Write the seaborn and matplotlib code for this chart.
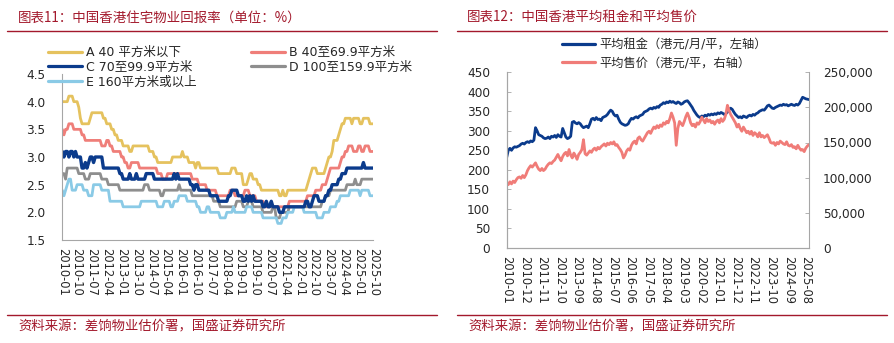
import numpy as np
import pandas as pd
import matplotlib
matplotlib.use("Agg")
import matplotlib.pyplot as plt
import seaborn as sns
from matplotlib.lines import Line2D
from matplotlib.ticker import FuncFormatter

sns.set_style("white")
plt.rcParams["font.family"] = ["DejaVu Sans", "Noto Sans CJK SC"]
CJK = ["Noto Sans CJK SC", "DejaVu Sans"]

# ---------------- data ----------------
months = pd.period_range("2010-01", periods=190, freq="M").strftime("%Y-%m").tolist()

# rental yield by unit size (%), monthly, stored as (value, number of months) runs
yield_a_runs = [(4.0, 4), (4.1, 3), (4.0, 3), (3.9, 1), (3.7, 1), (3.6, 5), (3.7, 1), (3.8, 7),
                (3.7, 2), (3.6, 3), (3.5, 2), (3.4, 2), (3.3, 3), (3.2, 4), (3.1, 2), (3.2, 10),
                (3.1, 3), (3.0, 2), (2.9, 9), (3.0, 6), (3.1, 1), (3.0, 3), (2.9, 4), (2.8, 1),
                (2.9, 2), (2.8, 11), (2.7, 8), (2.8, 3), (2.7, 4), (2.5, 3), (2.6, 1), (2.7, 2),
                (2.6, 3), (2.5, 2), (2.4, 11), (2.3, 2), (2.4, 1), (2.3, 2), (2.4, 12), (2.5, 1),
                (2.6, 1), (2.7, 1), (2.8, 3), (2.7, 5), (2.8, 1), (2.9, 1), (3.0, 2), (3.1, 1),
                (3.3, 3), (3.4, 1), (3.5, 1), (3.6, 2), (3.7, 4), (3.6, 1), (3.7, 4), (3.6, 2),
                (3.7, 4), (3.6, 3)]
yield_b_runs = [(3.5, 1), (3.4, 1), (3.5, 2), (3.6, 3), (3.5, 5), (3.4, 2), (3.3, 10), (3.2, 3),
                (3.3, 2), (3.2, 2), (3.1, 5), (3.0, 2), (2.9, 2), (2.8, 2), (2.9, 5), (2.8, 11),
                (2.7, 3), (2.6, 3), (2.7, 15), (2.6, 4), (2.5, 5), (2.4, 6), (2.3, 8), (2.4, 3),
                (2.3, 6), (2.4, 3), (2.3, 4), (2.2, 5), (2.1, 15), (2.2, 11), (2.3, 5), (2.4, 4),
                (2.5, 3), (2.6, 1), (2.7, 1), (2.8, 6), (2.9, 1), (3.0, 2), (3.1, 2), (3.2, 3),
                (3.1, 3), (3.2, 2), (3.1, 2), (3.2, 3), (3.1, 3)]
yield_c_runs = [(3.1, 1), (3.0, 1), (3.1, 2), (3.0, 1), (3.1, 2), (3.0, 1), (3.1, 1), (3.0, 3),
                (2.8, 2), (2.9, 1), (2.8, 1), (2.9, 1), (3.0, 2), (2.9, 1), (3.0, 5), (2.8, 10),
                (2.7, 2), (2.6, 4), (2.7, 1), (2.6, 3), (2.7, 1), (2.6, 5), (2.7, 5), (2.6, 12),
                (2.7, 1), (2.6, 1), (2.7, 1), (2.6, 7), (2.5, 2), (2.4, 1), (2.5, 2), (2.4, 7),
                (2.3, 5), (2.2, 6), (2.3, 2), (2.4, 4), (2.3, 3), (2.2, 2), (2.3, 1), (2.2, 1),
                (2.3, 1), (2.2, 1), (2.3, 1), (2.2, 5), (2.1, 2), (2.2, 1), (2.1, 2), (2.2, 1),
                (2.1, 4), (2.0, 3), (2.1, 13), (2.2, 2), (2.1, 2), (2.2, 1), (2.3, 3), (2.2, 4),
                (2.3, 2), (2.4, 2), (2.5, 4), (2.6, 2), (2.7, 3), (2.8, 10), (2.9, 1), (2.8, 6)]
yield_d_runs = [(2.7, 2), (2.6, 1), (2.8, 7), (2.7, 4), (2.6, 3), (2.7, 7), (2.6, 4), (2.5, 7),
                (2.4, 15), (2.5, 3), (2.4, 7), (2.3, 2), (2.4, 9), (2.5, 1), (2.4, 7), (2.3, 13),
                (2.2, 4), (2.1, 10), (2.2, 4), (2.1, 3), (2.2, 3), (2.1, 6), (2.0, 6), (2.1, 2),
                (1.9, 3), (2.0, 5), (2.1, 20), (2.2, 2), (2.3, 3), (2.4, 10), (2.5, 5), (2.6, 1),
                (2.5, 3), (2.6, 8)]
yield_e_runs = [(2.4, 1), (2.3, 1), (2.4, 1), (2.5, 1), (2.6, 2), (2.4, 3), (2.5, 4), (2.4, 3),
                (2.3, 3), (2.5, 5), (2.4, 5), (2.2, 8), (2.1, 11), (2.2, 10), (2.1, 4), (2.2, 4),
                (2.1, 2), (2.2, 3), (2.3, 5), (2.2, 6), (2.1, 2), (2.0, 4), (2.1, 2), (2.0, 6),
                (1.9, 4), (2.0, 4), (2.1, 1), (2.0, 7), (2.1, 4), (2.0, 6), (1.9, 9), (1.8, 3),
                (1.9, 3), (2.0, 4), (2.1, 6), (2.0, 8), (1.9, 4), (2.0, 4), (2.1, 4), (2.2, 2),
                (2.3, 6), (2.4, 6), (2.3, 1), (2.4, 5), (2.3, 3)]

yield_labels = ["A 40 平方米以下", "B 40至69.9平方米", "C 70至99.9平方米",
                "D 100至159.9平方米", "E 160平方米或以上"]

# average rent (HKD / month / sq ft) and average price (HKD / sq ft), monthly
rent = [232, 250, 255, 250, 256, 259, 258, 260, 262, 266,
        268, 266, 270, 272, 270, 274, 272, 276, 308, 300,
        290, 288, 286, 282, 280, 281, 284, 280, 286, 284,
        288, 283, 290, 286, 284, 306, 295, 284, 280, 282,
        286, 322, 324, 320, 318, 321, 318, 312, 308, 310,
        312, 308, 318, 330, 332, 328, 334, 329, 330, 326,
        334, 336, 338, 342, 348, 353, 350, 342, 338, 340,
        330, 322, 318, 316, 314, 315, 318, 326, 332, 330,
        334, 336, 333, 338, 340, 342, 348, 350, 352, 356,
        358, 356, 360, 358, 362, 360, 366, 368, 372, 370,
        374, 372, 376, 373, 375, 372, 370, 374, 372, 368,
        370, 374, 376, 377, 372, 366, 360, 352, 346, 340,
        336, 334, 338, 336, 340, 338, 342, 340, 343, 341,
        344, 342, 346, 344, 347, 345, 342, 344, 348, 354,
        358, 355, 348, 342, 338, 334, 336, 333, 338, 336,
        334, 338, 340, 338, 342, 340, 344, 346, 350, 352,
        354, 353, 358, 364, 366, 362, 358, 357, 360, 362,
        364, 366, 365, 368, 366, 367, 364, 366, 368, 366,
        365, 368, 366, 370, 378, 386, 384, 382, 381, 380]
price = [92000, 90000, 94000, 91000, 95000, 93000, 97000, 100000, 101000, 99000,
         103000, 100000, 104000, 110000, 114000, 117000, 115000, 118000, 121000, 116000,
         112000, 110000, 113000, 110000, 112000, 116000, 119000, 121000, 120000, 123000,
         125000, 129000, 133000, 128000, 124000, 130000, 134000, 136000, 131000, 140000,
         132000, 128000, 135000, 131000, 126000, 133000, 136000, 140000, 154000, 134000,
         132000, 135000, 138000, 136000, 140000, 142000, 139000, 143000, 141000, 144000,
         146000, 148000, 145000, 149000, 147000, 150000, 148000, 151000, 146000, 147000,
         143000, 140000, 136000, 128000, 132000, 138000, 141000, 139000, 146000, 150000,
         152000, 148000, 156000, 158000, 154000, 152000, 156000, 160000, 164000, 166000,
         163000, 168000, 172000, 170000, 174000, 171000, 175000, 173000, 178000, 176000,
         180000, 178000, 184000, 192000, 186000, 178000, 146000, 170000, 180000, 177000,
         174000, 180000, 187000, 192000, 186000, 178000, 174000, 176000, 172000, 178000,
         176000, 180000, 186000, 182000, 178000, 184000, 180000, 182000, 178000, 180000,
         176000, 180000, 182000, 178000, 184000, 180000, 183000, 190000, 203000, 196000,
         190000, 186000, 182000, 178000, 172000, 176000, 170000, 166000, 172000, 168000,
         164000, 166000, 162000, 166000, 160000, 164000, 162000, 158000, 164000, 158000,
         160000, 157000, 159000, 161000, 156000, 150000, 149000, 150000, 146000, 150000,
         148000, 152000, 150000, 148000, 147000, 151000, 146000, 145000, 147000, 143000,
         144000, 141000, 146000, 142000, 139000, 140000, 137000, 142000, 145000, 147000]
rent_label = "平均租金（港元/月/平，左轴）"
price_label = "平均售价（港元/平，右轴）"

# ---------------- styling ----------------
yield_colors = ["#E5C25E", "#EF7E79", "#0B3B8C", "#8E8E8E", "#8ACAE6"]
yield_widths = [2.0, 2.0, 2.4, 2.0, 2.0]
rent_color = "#0B3B8C"
price_color = "#F07C78"
axis_grey = "#A6A6A6"
dark_red = "#A3192C"
W, H = 895, 343


def expand(runs):
    return np.concatenate([np.full(n, v) for v, n in runs])


def fx(px):
    return px / W


def fy(py):
    return 1 - py / H


idx = np.arange(len(months))
yield_df = pd.DataFrame({"idx": idx})
for lab, runs in zip(yield_labels,
                     [yield_a_runs, yield_b_runs, yield_c_runs, yield_d_runs, yield_e_runs]):
    yield_df[lab] = expand(runs)
price_df = pd.DataFrame({"idx": idx, "rent": rent, "price": price})

fig = plt.figure(figsize=(W / 100, H / 100), dpi=100)

# ---------------- left: rental yield ----------------
ax1 = fig.add_axes([fx(62.3), fy(240), fx(373.3 - 62.3), (240 - 74) / H])
handles = {}
for k in [0, 1, 3, 4, 2]:
    lab = yield_labels[k]
    sns.lineplot(data=yield_df, x="idx", y=lab, ax=ax1, color=yield_colors[k],
                 linewidth=yield_widths[k], legend=False)
    handles[k] = Line2D([], [], color=yield_colors[k], linewidth=2.3, label=lab)
ax1.set_xlim(0, len(months) - 1)
ax1.set_ylim(1.5, 4.5)
ax1.set_yticks(np.arange(1.5, 4.51, 0.5))
ax1.set_yticklabels([f"{v:.1f}" for v in np.arange(1.5, 4.51, 0.5)])
ax1.set_xticks(idx)
ax1.set_xticklabels([m if i % 9 == 0 else "" for i, m in enumerate(months)], rotation=270)
ax1.set_xlabel("")
ax1.set_ylabel("")
ax1.tick_params(axis="x", direction="in", length=3.5, width=0.6, color=axis_grey,
                pad=6, labelsize=8.3)
ax1.tick_params(axis="y", direction="in", length=3, width=0.6, color=axis_grey,
                pad=12, labelsize=8.7)
for s in ["top", "right"]:
    ax1.spines[s].set_visible(False)
for s in ["left", "bottom"]:
    ax1.spines[s].set_color(axis_grey)
    ax1.spines[s].set_linewidth(0.8)

fig.legend(handles=[handles[0], handles[2], handles[4], handles[1], handles[3]],
           ncol=2, loc="upper left", bbox_to_anchor=(fx(48), fy(46)),
           frameon=False, fontsize=9, handlelength=2.7, handletextpad=0.3,
           columnspacing=4.4, labelspacing=0.14, borderpad=0, borderaxespad=0)

# ---------------- right: rent and price ----------------
ax2 = fig.add_axes([fx(506.7), fy(247.8), fx(809 - 506.7), (247.8 - 72.3) / H])
sns.lineplot(data=price_df, x="idx", y="rent", ax=ax2, color=rent_color, linewidth=2.0)
ax3 = ax2.twinx()
sns.lineplot(data=price_df, x="idx", y="price", ax=ax3, color=price_color, linewidth=2.0)
ax2.set_xlim(0, len(months) - 1)
ax2.set_ylim(0, 450)
ax2.set_yticks(np.arange(0, 451, 50))
ax3.set_ylim(0, 250000)
ax3.set_yticks(np.arange(0, 250001, 50000))
ax3.yaxis.set_major_formatter(FuncFormatter(lambda v, p: f"{int(v):,}"))
ax2.set_xticks(idx)
ax2.set_xticklabels([m if i % 11 == 0 else "" for i, m in enumerate(months)], rotation=270)
for a in (ax2, ax3):
    a.set_xlabel("")
    a.set_ylabel("")
    a.spines["top"].set_visible(False)
    for s in ["left", "right", "bottom"]:
        a.spines[s].set_color(axis_grey)
        a.spines[s].set_linewidth(0.8)
ax2.spines["right"].set_visible(False)
ax2.tick_params(axis="x", direction="in", length=3.5, width=0.6, color=axis_grey,
                pad=6, labelsize=8.3)
ax2.tick_params(axis="y", direction="in", length=3, width=0.6, color=axis_grey,
                pad=12, labelsize=8.7)
ax3.tick_params(axis="y", direction="in", length=3, width=0.6, color=axis_grey,
                pad=10, labelsize=8.7)

fig.legend(handles=[Line2D([], [], color=rent_color, linewidth=2.3, label=rent_label),
                    Line2D([], [], color=price_color, linewidth=2.3, label=price_label)],
           loc="upper left", bbox_to_anchor=(fx(562), fy(38)), frameon=False,
           fontsize=8.8, handlelength=2.7, handletextpad=0.35, labelspacing=0.45,
           borderpad=0, borderaxespad=0)

# ---------------- titles, rules, sources ----------------
fig.text(fx(18), fy(18), "图表11：中国香港住宅物业回报率（单位：%）", color=dark_red,
         fontsize=9.7, va="center", ha="left", family=CJK, style="italic")
fig.text(fx(467), fy(17), "图表12：中国香港平均租金和平均售价", color=dark_red,
         fontsize=9.7, va="center", ha="left", family=CJK, style="italic")
for x0, x1 in [(7, 437), (457, 887)]:
    for yy in (31, 315):
        fig.add_artist(Line2D([fx(x0), fx(x1)], [fy(yy), fy(yy)], color=dark_red, linewidth=1.0))
for xs in (18, 468):
    fig.text(fx(xs), fy(326.5), "资料来源：差饷物业估价署，国盛证券研究所", color=dark_red,
             fontsize=9.6, va="center", ha="left", family=CJK, style="italic")

fig.savefig("out.png", dpi=100)
